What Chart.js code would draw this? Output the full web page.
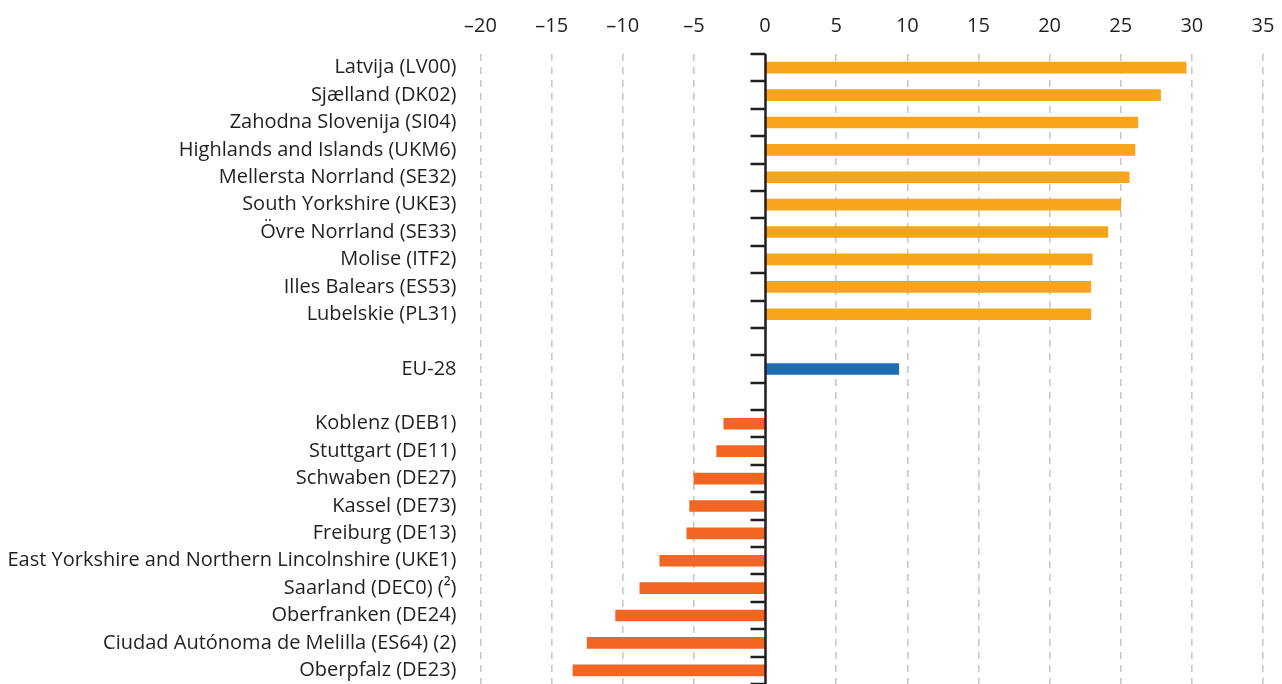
<!DOCTYPE html>
<html>
<head>
<meta charset="utf-8">
<script src="https://cdn.jsdelivr.net/npm/chart.js@4"></script>
<style>
  html, body { margin: 0; padding: 0; background: #fff; }
  #wrap { width: 1282px; height: 684px; }
</style>
</head>
<body>
<div id="wrap"><canvas id="regionChart"></canvas></div>
<script>
// highest growth regions
const topRegions = [
  'Latvija (LV00)', 'Sjælland (DK02)', 'Zahodna Slovenija (SI04)',
  'Highlands and Islands (UKM6)', 'Mellersta Norrland (SE32)',
  'South Yorkshire (UKE3)', 'Övre Norrland (SE33)', 'Molise (ITF2)',
  'Illes Balears (ES53)', 'Lubelskie (PL31)'
];
const topValues = [29.6, 27.8, 26.2, 26.0, 25.6, 25.0, 24.1, 23.0, 22.9, 22.9];

const euLabel = 'EU-28';
const euValue = 9.4;

// lowest growth regions
const bottomRegions = [
  'Koblenz (DEB1)', 'Stuttgart (DE11)', 'Schwaben (DE27)', 'Kassel (DE73)',
  'Freiburg (DE13)', 'East Yorkshire and Northern Lincolnshire (UKE1)',
  'Saarland (DEC0) (²)', 'Oberfranken (DE24)',
  'Ciudad Autónoma de Melilla (ES64) (2)', 'Oberpfalz (DE23)'
];
const bottomValues = [-2.9, -3.4, -5.0, -5.3, -5.5, -7.4, -8.8, -10.5, -12.5, -13.5];

const xTicks = [-20, -15, -10, -5, 0, 5, 10, 15, 20, 25, 30, 35];

const labels = [...topRegions, '', euLabel, '', ...bottomRegions];
const values = [...topValues, null, euValue, null, ...bottomValues];
const colors = [
  ...topValues.map(() => '#f8a51e'), 'rgba(0,0,0,0)', '#1f6eb5', 'rgba(0,0,0,0)',
  ...bottomValues.map(() => '#f26522')
];

const ink = '#231f20';
const font = { family: 'Open Sans', size: 20 };

// zero line with short separators between rows
const zeroAxis = {
  id: 'zeroAxis',
  afterDatasetsDraw(chart) {
    const { ctx, chartArea, scales: { x, y } } = chart;
    const x0 = Math.round(x.getPixelForValue(0)) + 0.5;
    ctx.save();
    ctx.strokeStyle = ink;
    ctx.lineWidth = 2.5;
    ctx.beginPath();
    ctx.moveTo(x0, chartArea.top);
    ctx.lineTo(x0, chartArea.bottom);
    for (let i = 0; i <= labels.length; i++) {
      const yy = Math.round(y.getPixelForValue(i - 0.5));
      ctx.moveTo(x0 - 15, yy);
      ctx.lineTo(x0, yy);
    }
    ctx.stroke();
    ctx.restore();
  }
};

new Chart(document.getElementById('regionChart'), {
  type: 'bar',
  data: {
    labels: labels,
    datasets: [{
      data: values,
      backgroundColor: colors,
      barThickness: 11
    }]
  },
  options: {
    indexAxis: 'y',
    responsive: true,
    maintainAspectRatio: false,
    animation: false,
    layout: { padding: { top: 0, right: 19, bottom: -4, left: 0 } },
    plugins: { legend: { display: false }, tooltip: { enabled: false } },
    scales: {
      x: {
        position: 'top',
        min: -20,
        max: 35,
        afterBuildTicks: s => { s.ticks = xTicks.map(v => ({ value: v })); },
        afterFit: s => { s.height = 54; s.paddingLeft = 0; s.paddingRight = 0; },
        border: { display: false, dash: [7, 6] },
        grid: {
          drawTicks: false,
          lineWidth: ctx => ctx.tick && ctx.tick.value === 0 ? 0 : 1.6,
          color: '#c8c8c8'
        },
        ticks: {
          color: ink,
          font: font,
          padding: 16,
          callback: v => v < 0 ? '–' + Math.abs(v) : String(v)
        }
      },
      y: {
        afterFit: s => { s.width = 480.5; s.paddingTop = 0; s.paddingBottom = -4; },
        border: { display: false },
        grid: { display: false },
        ticks: { color: ink, font: font, padding: 16, autoSkip: false }
      }
    }
  },
  plugins: [zeroAxis]
});
</script>
</body>
</html>
